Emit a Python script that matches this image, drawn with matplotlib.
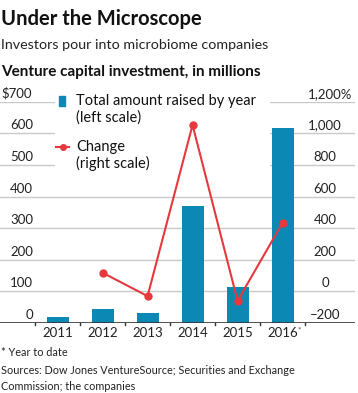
import numpy as np
import matplotlib.pyplot as plt
from matplotlib.patches import Rectangle
from matplotlib.lines import Line2D

plt.rcParams['font.family'] = ['Lato', 'DejaVu Sans']

# data
years = ["2011", "2012", "2013", "2014", "2015", "2016"]
raised = [20, 44, 31, 370, 114, 616]                 # $ millions (left scale)
change_years = ["2012", "2013", "2014", "2015", "2016"]
change = [118, -30, 1053, -60, 434]                  # % (right scale)

left_ticks = [0, 100, 200, 300, 400, 500, 600, 700]
left_labels = ["0", "100", "200", "300", "400", "500", "600", "$700"]
right_ticks = [-200, 0, 200, 400, 600, 800, 1000, 1200]
right_labels = ["\u2013200", "0", "200", "400", "600", "800", "1,000", "1,200%"]

blue = "#0b89b4"
red = "#e5393e"
grid = "#c9c9c9"
W, H = 358, 393

def fx(px):
    return px / W

def fy(py):
    return 1 - py / H

fig = plt.figure(figsize=(W / 100, H / 100), dpi=100)
ax = fig.add_axes([0, fy(323), fx(355), fy(101.7) - fy(323)])
ax.set_xlim(-1.28, 6.61)
ax.set_ylim(0, 700)
ax.axis("off")

x = np.arange(len(years))
for t in left_ticks[1:]:
    ax.axhline(t, color=grid, lw=1, zorder=0)
ax.axhline(0, color="#333333", lw=1.2, zorder=3)
# ticks between the years
for b in np.arange(-0.5, len(years)):
    ax.plot([b, b], [0, -7], color="#333333", lw=1, clip_on=False, zorder=3)

ax.bar(x, raised, width=0.49, color=blue, zorder=2)

# white box behind the legend
ax.add_patch(Rectangle((fx(55), fy(172)), fx(215), fy(90) - fy(172),
                       transform=fig.transFigure, facecolor="white",
                       edgecolor="none", zorder=1))

# left scale labels, sitting on the gridlines
for t, lab in zip(left_ticks, left_labels):
    if lab.startswith("$"):
        fig.text(fx(1), ax.transData.transform((0, t + 6))[1] / fig.bbox.height,
                 lab, fontsize=9.5, color="#222222", ha="left", va="bottom")
    else:
        fig.text(fx(33), ax.transData.transform((0, t + 6))[1] / fig.bbox.height,
                 lab, fontsize=9.5, color="#222222", ha="right", va="bottom")

for i, lab in enumerate(years):
    ax.text(i, -12, lab, fontsize=9.5, color="#222222", ha="center", va="top")
ax.text(5.33, -10, "*", fontsize=6, color="#444444", ha="left", va="top")

ax2 = ax.twinx()
ax2.set_ylim(-200, 1200)
ax2.axis("off")
cx = [years.index(y) for y in change_years]
ax2.plot(cx, change, color=red, lw=1.5, marker="o", ms=5, zorder=4)

# right scale labels
for t, lab in zip(right_ticks, right_labels):
    yy = ax2.transData.transform((0, t + 12))[1] / fig.bbox.height
    if lab.endswith("%"):
        fig.text(fx(308), yy, lab, fontsize=9.5, color="#222222",
                 ha="left", va="bottom")
    else:
        fig.text(fx(325), yy, lab, fontsize=9.5, color="#222222",
                 ha="center", va="bottom")

# legend
fig.patches.append(Rectangle((fx(59), fy(106)), fx(6), fy(96) - fy(106),
                             transform=fig.transFigure, color=blue))
fig.text(fx(76), fy(101), "Total amount raised by year", fontsize=10.5,
         color="#111111", va="center")
fig.text(fx(76), fy(118), "(left scale)", fontsize=10.5, color="#111111",
         va="center")
fig.lines.append(Line2D([fx(56), fx(69)], [fy(147), fy(147)], color=red,
                        lw=1.5, transform=fig.transFigure))
fig.lines.append(Line2D([fx(62.5)], [fy(147)], color=red, marker="o", ms=4,
                        transform=fig.transFigure))
fig.text(fx(76), fy(147), "Change", fontsize=10.5, color="#111111",
         va="center")
fig.text(fx(76), fy(163), "(right scale)", fontsize=10.5, color="#111111",
         va="center")

# titles
fig.text(fx(1), fy(19), "Under the Microscope", fontsize=14.5, weight="bold",
         color="#111111", va="center")
fig.text(fx(1), fy(45), "Investors pour into microbiome companies",
         fontsize=10.3, color="#222222", va="center")
fig.text(fx(1), fy(72), "Venture capital investment, in millions",
         fontsize=11, weight="bold", color="#111111", va="center")

# notes
fig.text(fx(1), fy(352), "* Year to date", fontsize=7.8, color="#222222",
         va="center")
fig.text(fx(1), fy(370), "Sources: Dow Jones VentureSource; Securities and Exchange",
         fontsize=7.8, color="#222222", va="center")
fig.text(fx(1), fy(386), "Commission; the companies", fontsize=7.8,
         color="#222222", va="center")

fig.savefig("out.png", dpi=100)
